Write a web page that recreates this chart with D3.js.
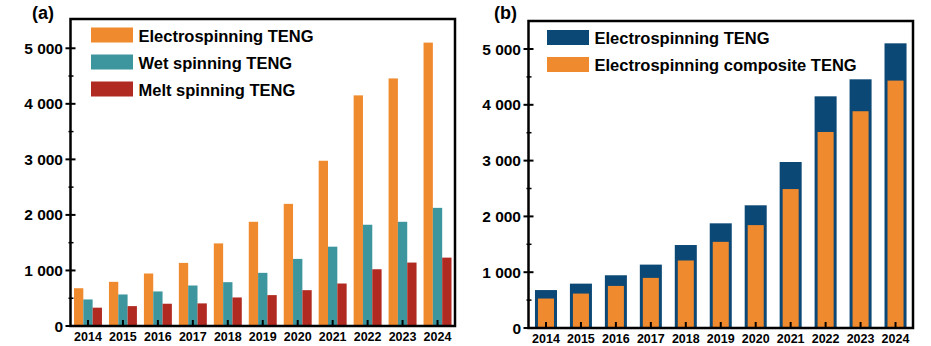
<!DOCTYPE html>
<html>
<head>
<meta charset="utf-8">
<script src="https://cdn.jsdelivr.net/npm/d3@7"></script>
<style>
  body { margin: 0; background: #fff; }
  svg text { font-family: "Liberation Sans", Arial, sans-serif; font-weight: bold; fill: #000; }
</style>
</head>
<body>
<svg width="931" height="346"></svg>
<script>
// data
let years = ["2014","2015","2016","2017","2018","2019","2020","2021","2022","2023","2024"];
let electro = [680, 795, 945, 1136, 1487, 1876, 2199, 2975, 4152, 4457, 5102];
let wet = [478, 568, 622, 729, 789, 957, 1208, 1428, 1823, 1876, 2127];
let melt = [330, 358, 401, 407, 514, 556, 645, 765, 1022, 1142, 1231];
let composite = [528, 617, 754, 898, 1210, 1544, 1844, 2490, 3513, 3885, 4434];
let yTicks = [0, 1000, 2000, 3000, 4000, 5000];
let yMinor = [500, 1500, 2500, 3500, 4500];

let orange = "#f08a2e", teal = "#3d969e", red = "#b02a22", navy = "#0c4876";

let svg = d3.select("svg");
let fmt = d => d3.format(",")(d).replace(",", " ");

function frame(g, x, y, left, right, top, bottom) {
    // y axis ticks, crossing the axis line
    yTicks.forEach(t => {
        g.append("line").attr("x1", left - 5).attr("x2", left + 5)
            .attr("y1", y(t)).attr("y2", y(t)).attr("stroke", "#000").attr("stroke-width", 2);
        g.append("text").attr("x", left - 7.5).attr("y", y(t)).attr("dy", "0.36em")
            .attr("text-anchor", "end").style("font-size", "15.5px").text(fmt(t));
    });
    yMinor.forEach(t => {
        g.append("line").attr("x1", left - 2).attr("x2", left + 3)
            .attr("y1", y(t)).attr("y2", y(t)).attr("stroke", "#000").attr("stroke-width", 1.5);
    });
    years.forEach(c => {
        let cx = x(c) + x.bandwidth() / 2;
        g.append("line").attr("x1", cx).attr("x2", cx).attr("y1", bottom - 6).attr("y2", bottom)
            .attr("stroke", "#000").attr("stroke-width", 2);
        g.append("text").attr("x", cx).attr("y", bottom + 15).attr("text-anchor", "middle")
            .style("font-size", "12.5px").text(c);
    });
    g.append("path")
        .attr("d", `M${left},${top}H${right}V${bottom}H${left}Z`)
        .attr("fill", "none").attr("stroke", "#000").attr("stroke-width", 2.5);
}

function legend(g, x0, y0, items) {
    items.forEach((it, i) => {
        g.append("rect").attr("x", x0).attr("y", y0 + i * 27).attr("width", 42).attr("height", 15)
            .attr("fill", it[1]);
        g.append("text").attr("x", x0 + 47.5).attr("y", y0 + i * 27 + 14)
            .style("font-size", "16.5px").text(it[0]);
    });
}

// ---- panel (a)
let aL = 70.5, aR = 455, aT = 19, aB = 326;
let xa = d3.scaleBand().domain(years).range([aL, aR]).paddingInner(0.2).paddingOuter(0.1);
let ya = d3.scaleLinear().domain([0, 5527]).range([aB, aT]);
let sub = d3.scaleBand().domain(["e", "w", "m"]).range([0, xa.bandwidth()]);
let ga = svg.append("g");
let seriesA = [["e", electro, orange], ["w", wet, teal], ["m", melt, red]];
seriesA.forEach(s => {
    ga.selectAll(null).data(s[1]).enter().append("rect")
        .attr("x", (d, i) => xa(years[i]) + sub(s[0]))
        .attr("width", sub.bandwidth())
        .attr("y", d => ya(d))
        .attr("height", d => aB - ya(d))
        .attr("fill", s[2]);
});
frame(ga, xa, ya, aL, aR, aT, aB);
legend(ga, 91, 27.5, [["Electrospinning TENG", orange], ["Wet spinning TENG", teal], ["Melt spinning TENG", red]]);
ga.append("text").attr("x", 32).attr("y", 19).style("font-size", "18px").text("(a)");

// ---- panel (b)
let bL = 528.5, bR = 913, bT = 21, bB = 328;
let xb = d3.scaleBand().domain(years).range([bL, bR]).paddingInner(0.37).paddingOuter(0.185);
let yb = d3.scaleLinear().domain([0, 5502]).range([bB, bT]);
let gb = svg.append("g");
gb.selectAll(null).data(electro).enter().append("rect")
    .attr("x", (d, i) => xb(years[i]))
    .attr("width", xb.bandwidth())
    .attr("y", d => yb(d))
    .attr("height", d => bB - yb(d))
    .attr("fill", navy);
gb.selectAll(null).data(composite).enter().append("rect")
    .attr("x", (d, i) => xb(years[i]) + 3)
    .attr("width", xb.bandwidth() - 6)
    .attr("y", d => yb(d))
    .attr("height", d => bB - yb(d))
    .attr("fill", orange);
frame(gb, xb, yb, bL, bR, bT, bB);
legend(gb, 547, 30, [["Electrospinning TENG", navy], ["Electrospinning composite TENG", orange]]);
gb.append("text").attr("x", 494).attr("y", 19).style("font-size", "18px").text("(b)");
</script>
</body>
</html>
